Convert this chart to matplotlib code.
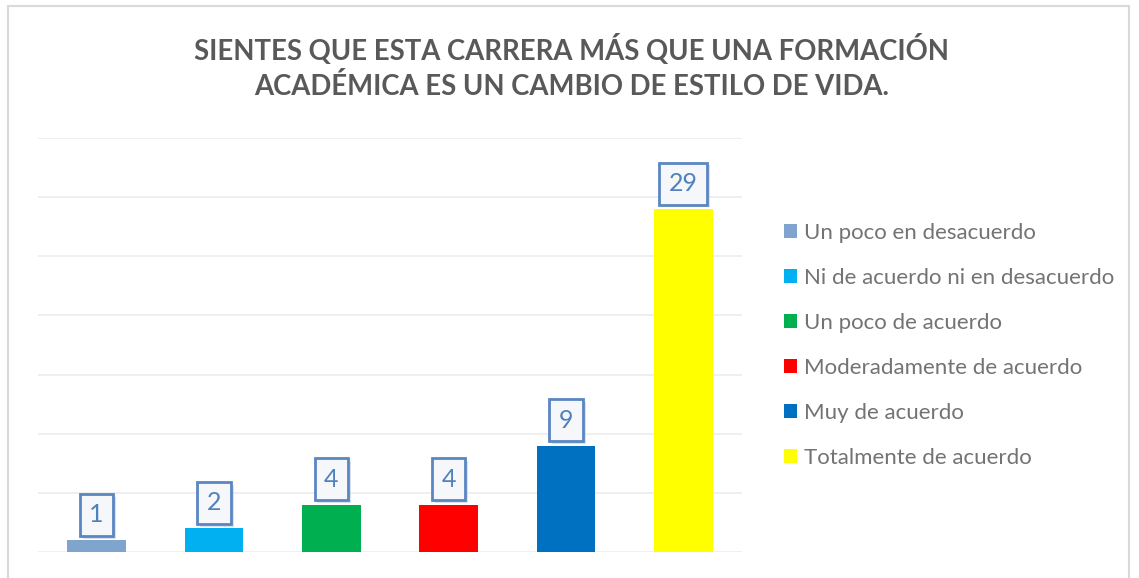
import numpy as np
import matplotlib
matplotlib.use("Agg")
import matplotlib.pyplot as plt
from matplotlib.patches import Rectangle
from matplotlib import patheffects as pe

categories = ['Un poco en desacuerdo', 'Ni de acuerdo ni en desacuerdo', 'Un poco de acuerdo',
              'Moderadamente de acuerdo', 'Muy de acuerdo', 'Totalmente de acuerdo']
values = [1, 2, 4, 4, 9, 29]
colors = ['#7fa5cf', '#00b0f0', '#00b050', '#ff0000', '#0070c0', '#ffff00']
title = 'SIENTES QUE ESTA CARRERA MÁS QUE UNA FORMACIÓN\nACADÉMICA ES UN CAMBIO DE ESTILO DE VIDA.'

plt.rcParams['font.family'] = ['Lato', 'DejaVu Sans']

fig = plt.figure(figsize=(11.39, 5.78), dpi=100)
ax = fig.add_axes([38 / 1139, 26 / 578, 704 / 1139, 414 / 578])

# outer chart border
fig.patches.append(Rectangle((8 / 1139, -0.05), 1121 / 1139, 1.05 - 6 / 578, transform=fig.transFigure,
                             fill=False, edgecolor='#d9d9d9', linewidth=1.5))

x = np.arange(len(values))
bars = ax.bar(x, values, width=0.5, color=colors, zorder=3)
for b, c in zip(bars, categories):
    b.set_label(c)

ax.set_xlim(-0.5, len(values) - 0.5)
ax.set_ylim(0, 35)
ax.set_yticks(np.arange(0, 36, 5))
ax.yaxis.grid(True, color='#ececec', linewidth=1.2)
ax.set_axisbelow(True)
ax.tick_params(left=False, bottom=False, labelleft=False, labelbottom=False)
for s in ax.spines.values():
    s.set_visible(False)

for xi, v in zip(x, values):
    t = ax.annotate(str(v), (xi, v), xytext=(0, 10), textcoords='offset points', ha='center', va='bottom',
                    fontsize=18, color='#4f81bd',
                    bbox=dict(boxstyle='square,pad=0.38', fc='#f5f7fb', ec='#5a86c2', lw=2), zorder=5)
    t.get_bbox_patch().set_path_effects([
        pe.SimplePatchShadow(offset=(2, -2), shadow_rgbFace='#b8c4d8', alpha=0.5),
        pe.Normal()])

fig.text(0.502, 1 - 67 / 578, title, ha='center', va='center', fontsize=19.8, fontweight='bold',
         color='#595959', linespacing=1.38)

fig.legend(handles=list(bars), loc='upper left', bbox_to_anchor=(784 / 1139, 1 - 223 / 578),
           frameon=False, fontsize=16, labelcolor='#737373', borderpad=0, borderaxespad=0,
           handlelength=0.6, handleheight=0.6, handletextpad=0.3, labelspacing=1.125)

fig.savefig('out.png', dpi=100)
